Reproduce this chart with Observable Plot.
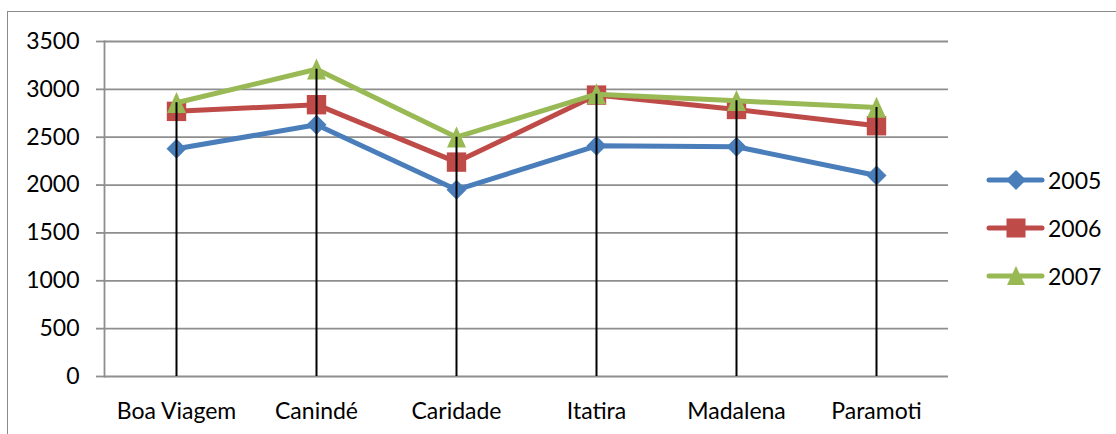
<!DOCTYPE html>
<html>
<head>
<meta charset="utf-8">
<script src="https://cdn.jsdelivr.net/npm/d3@7"></script>
<script src="https://cdn.jsdelivr.net/npm/@observablehq/plot@0.6"></script>
<style>
  html, body { margin: 0; padding: 0; background: #fff; overflow: hidden; }
  #wrap { position: relative; width: 1116px; height: 434px; overflow: hidden; font-family: Lato, sans-serif; }
  #wrap svg.plot { position: absolute; left: 0; top: 0; }
  #border { position: absolute; left: 7px; top: 11px; width: 1300px; height: 700px; border: 1.5px solid #8a8a8a; pointer-events: none; }
  .leg { position: absolute; left: 986px; height: 28px; display: flex; align-items: center; font-size: 23px; color: #000; }
  .leg svg { display: block; margin-right: 2px; }
</style>
</head>
<body>
<div id="wrap"><div id="border"></div></div>
<script>
const categories = ["Boa Viagem", "Canindé", "Caridade", "Itatira", "Madalena", "Paramoti"];
const series = ["2005", "2006", "2007"];
const values2005 = [2380, 2630, 1950, 2410, 2400, 2100];
const values2006 = [2770, 2840, 2240, 2940, 2790, 2620];
const values2007 = [2860, 3210, 2500, 2950, 2880, 2810];
const yTicks = [0, 500, 1000, 1500, 2000, 2500, 3000, 3500];
const colors = ["#4A7EBB", "#BE4B48", "#98B954"];

const seriesValues = [values2005, values2006, values2007];
const data = series.flatMap((s, i) => categories.map((c, j) => ({series: s, category: c, value: seriesValues[i][j]})));
const maxByCat = categories.map((c, j) => ({category: c, value: d3.max(seriesValues, v => v[j])}));

const rOf = size => Math.sqrt(size / Math.PI);
const diamondSym = {draw(ctx, size) { const r = rOf(size); ctx.moveTo(0, -r); ctx.lineTo(r, 0); ctx.lineTo(0, r); ctx.lineTo(-r, 0); ctx.closePath(); }};
const squareSym = {draw(ctx, size) { const r = rOf(size) * 0.97; ctx.rect(-r, -r, 2 * r, 2 * r); }};
const triangleSym = {draw(ctx, size) { const r = rOf(size); ctx.moveTo(0, -r * 1.08); ctx.lineTo(r * 0.95, r * 1.02); ctx.lineTo(-r * 0.95, r * 1.02); ctx.closePath(); }};
const symbols = [diamondSym, squareSym, triangleSym];

const gridColor = "#8e8e8e";
const marks = [
  Plot.ruleY(yTicks, {stroke: gridColor, strokeWidth: 1.8}),
  Plot.frame({anchor: "left", stroke: gridColor, strokeWidth: 1.8}),
  Plot.axisY({ticks: yTicks, tickSize: 8, tickPadding: 17, stroke: gridColor, strokeWidth: 1.8, fill: "#000", label: null, tickFormat: d => String(d)}),
  Plot.axisX({tickSize: 0, tickPadding: 26, fill: "#000", label: null})
];
series.forEach((s, i) => {
  const d = data.filter(e => e.series === s);
  marks.push(Plot.line(d, {x: "category", y: "value", stroke: colors[i], strokeWidth: 5, strokeLinejoin: "round", strokeLinecap: "round"}));
  marks.push(Plot.dot(d, {x: "category", y: "value", fill: colors[i], stroke: "none", r: 10, symbol: symbols[i]}));
});
marks.push(Plot.ruleX(maxByCat, {x: "category", y1: 0, y2: "value", stroke: "#000", strokeWidth: 2}));

const chart = Plot.plot({
  width: 1116,
  height: 434,
  marginLeft: 104,
  marginRight: 168,
  marginTop: 41,
  marginBottom: 58,
  style: {fontFamily: "Lato, sans-serif", fontSize: "23px", background: "transparent", color: "#000"},
  x: {type: "point", domain: categories, padding: 0.5},
  y: {domain: [0, 3500]},
  marks
});
chart.classList.add("plot");
const wrap = document.getElementById("wrap");
wrap.insertBefore(chart, wrap.firstChild);

const legendTop = [166, 214, 262];
const legendPaths = [
  "M18,4 L28,14 L18,24 L8,14 Z",
  "M8.5,4.5 h19 v19 h-19 Z",
  "M18,4 L27,23 L9,23 Z"
];
series.forEach((s, i) => {
  const div = document.createElement("div");
  div.className = "leg";
  div.style.top = legendTop[i] + "px";
  div.innerHTML = `<svg width="60" height="28" viewBox="0 0 60 28"><line x1="3" y1="14" x2="56" y2="14" stroke="${colors[i]}" stroke-width="5" stroke-linecap="round"/><path transform="translate(12,0)" d="${legendPaths[i]}" fill="${colors[i]}"/></svg><span>${s}</span>`;
  wrap.appendChild(div);
});
</script>
</body>
</html>
